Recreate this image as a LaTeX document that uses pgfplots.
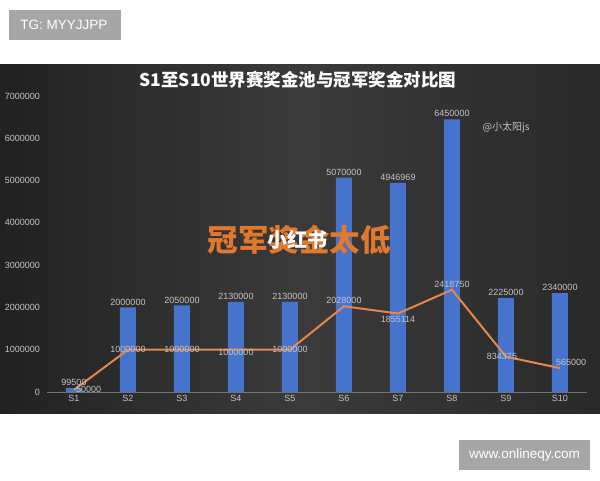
\documentclass[border=0pt]{standalone}
\usepackage{pgfplots}
\pgfplotsset{compat=1.18}
\usepackage{pgfplotstable}
\usepackage{fontspec}
\setmainfont{Liberation Sans}
\newfontfamily\cjk{Noto Sans CJK SC}
\definecolor{barblue}{HTML}{4674CC}
\definecolor{lineor}{HTML}{E8854A}
\definecolor{lbl}{HTML}{C4C4C4}
\definecolor{gridc}{HTML}{4A4A4A}
\definecolor{wmgray}{HTML}{A6A6A6}
\definecolor{stickor}{HTML}{E0782E}

\pgfplotstableread{
x y lab
0 99500 99500
1 2000000 2000000
2 2050000 2050000
3 2130000 2130000
4 2130000 2130000
5 5070000 5070000
6 4946969 4946969
7 6450000 6450000
8 2225000 2225000
9 2340000 2340000
}\bars

\pgfplotstableread{
x y lab
0 50000 50000
1 1000000 1000000
2 1000000 1000000
3 1000000 1000000
4 1000000 1000000
5 2028000 2028000
6 1855114 1855114
7 2418750 2418750
8 834375 834375
9 565000 565000
}\champ

\begin{document}
\begin{tikzpicture}[x=1pt,y=1pt]
\fill[white] (0,0) rectangle (600,480);
\shade[left color=black!87, right color=black!84, middle color=black!77] (0,67) rectangle (600,415);
% watermark boxes
\fill[wmgray] (9,440) rectangle (121,470);
\node[white, font=\fontsize{13.5}{15}\selectfont] at (64,455) {TG: MYYJJPP};
\fill[wmgray] (459,10) rectangle (590,40);
\node[white, font=\fontsize{13.5}{15}\selectfont] at (524.5,25) {www.onlineqy.com};

\begin{axis}[
  at={(47pt,88pt)}, anchor=south west,
  scale only axis, width=540pt, height=296pt,
  xmin=-0.5, xmax=9.5, ymin=0, ymax=7000000,
  axis y line=none, axis x line*=bottom,
  x axis line style={draw=black!55, line width=0.8pt},
  xtick={0,...,9},
  xticklabels={S1,S2,S3,S4,S5,S6,S7,S8,S9,S10},
  major tick length=0pt,
  xticklabel style={text=lbl, font=\fontsize{9}{10}\selectfont},
  ytick={0,1000000,...,7000000},
  ymajorgrids, grid style={draw=gridc, line width=0.6pt},
  scaled y ticks=false,
  clip=false,
  lab/.style={draw=none, mark=none, point meta=explicit symbolic, nodes near coords,
    every node near coord/.append style={text=lbl, font=\fontsize{9}{10}\selectfont, inner sep=2pt}},
]
\addplot[ybar, bar width=16pt, fill=barblue, draw=none,
  point meta=explicit symbolic,
  nodes near coords,
  every node near coord/.append style={text=lbl, font=\fontsize{9}{10}\selectfont, inner sep=2pt}
] table[x=x, y=y, meta=lab] {\bars};
\addplot[draw=lineor, line width=2pt, mark=none] table[x=x, y=y] {\champ};
% labels of the champion line, grouped by placement
\addplot[lab, every node near coord/.append style={anchor=west}] table[x=x, y=y, meta=lab] {
x y lab
0 50000 50000
};
\addplot[lab, every node near coord/.append style={anchor=center}] table[x=x, y=y, meta=lab] {
x y lab
1 1000000 1000000
2 1000000 1000000
4 1000000 1000000
};
\addplot[lab, every node near coord/.append style={anchor=center, xshift=-4pt}] table[x=x, y=y, meta=lab] {
x y lab
8 834375 834375
};
\addplot[lab, every node near coord/.append style={anchor=center, yshift=-3pt}] table[x=x, y=y, meta=lab] {
x y lab
3 1000000 1000000
};
\addplot[lab, every node near coord/.append style={anchor=north}] table[x=x, y=y, meta=lab] {
x y lab
6 1855114 1855114
};
\addplot[lab, every node near coord/.append style={anchor=south}] table[x=x, y=y, meta=lab] {
x y lab
5 2028000 2028000
7 2418750 2418750
};
\addplot[lab, every node near coord/.append style={anchor=south west, xshift=-6pt}] table[x=x, y=y, meta=lab] {
x y lab
9 565000 565000
};
\end{axis}
% y tick labels
\foreach \v [count=\i from 0] in {0,1000000,2000000,3000000,4000000,5000000,6000000,7000000}{
  \node[anchor=east, text=lbl, font=\fontsize{9}{10}\selectfont, inner sep=0pt] at (40,{88+\i*296/7}) {\v};
}
% title
\node[white, font=\cjk\bfseries\fontsize{17.5}{19}\selectfont] at (298,400) {S1至S10世界赛奖金池与冠军奖金对比图};
\node[text=lbl, font=\cjk\fontsize{10}{11}\selectfont] at (506,352) {@小太阳js};
% sticker overlay
\node[text=stickor, font=\cjk\bfseries\fontsize{30.5}{33}\selectfont] at (299,240) {冠军奖金太低};
\node[white, font=\cjk\bfseries\fontsize{20}{22}\selectfont] at (297,240) {小红书};
\end{tikzpicture}
\end{document}
